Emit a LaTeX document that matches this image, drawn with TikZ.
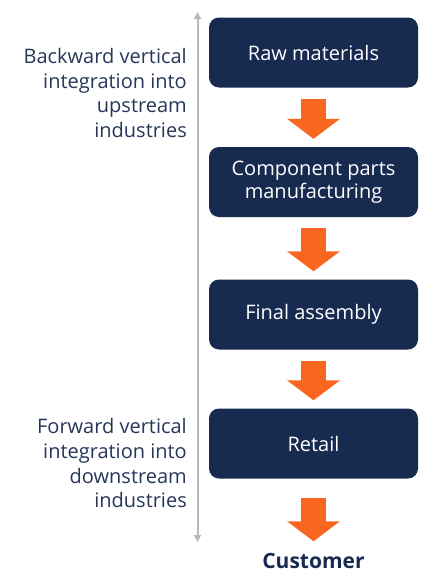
\documentclass[tikz,border=0pt]{standalone}
\usepackage{fontspec}
\setmainfont{Open Sans}
\usetikzlibrary{shapes, arrows.meta, positioning}
\definecolor{navy}{HTML}{172A4F}
\definecolor{labelblue}{HTML}{26365A}
\definecolor{flow}{HTML}{F96620}
\definecolor{axisgray}{HTML}{B4B9C2}

\begin{document}
\begin{tikzpicture}
  [
    x=1pt, y=1pt,
    Stage/.style={rectangle, rounded corners=10pt, fill=navy, text=white, minimum width=209pt, minimum height=70pt, align=center, font=\fontsize{20}{23}\selectfont},
    Side/.style={align=right, text=labelblue, inner sep=0pt, font=\fontsize{20}{24.6}\selectfont},
    Flow/.style={draw=flow, line width=25pt, -{Triangle[width=52pt, length=20pt]}},
    Axis/.style={draw=axisgray, line width=2pt, {Triangle[width=7pt, length=7pt]}-{Triangle[width=7pt, length=7pt]}}
  ]
  \useasboundingbox (0,0) rectangle (443,-579);
  % Nodes
  \node[Stage] (raw) at(313.5, -52.5) {Raw materials};
  \node[Stage] (parts) at(313.5, -182) {Component parts\\manufacturing};
  \node[Stage] (assembly) at(313.5, -314.5) {Final assembly};
  \node[Stage] (retail) at(313.5, -443.5) {Retail};
  \node[text=navy, font=\fontsize{21}{24}\bfseries] (customer) at(313.5, -560.5) {Customer};
  \node[Side, anchor=north east] (backward) at(187, -48) {Backward vertical\\integration into\\upstream\\industries};
  \node[Side, anchor=north east] (forward) at(187, -418.5) {Forward vertical\\integration into\\downstream\\industries};
  \coordinate (up) at(197.5, -12);
  \coordinate (down) at(197.5, -542);
  % Lines
  \path[Flow] ([yshift=-11pt]raw.south) -- ([yshift=8pt]parts.north);
  \path[Flow] ([yshift=-11pt]parts.south) -- ([yshift=8pt]assembly.north);
  \path[Flow] ([yshift=-11pt]assembly.south) -- ([yshift=8pt]retail.north);
  \path[Flow] ([yshift=-19pt]retail.south) -- ([yshift=8pt]customer.north);
  \path[Axis] (down) -- (up);
\end{tikzpicture}
\end{document}
